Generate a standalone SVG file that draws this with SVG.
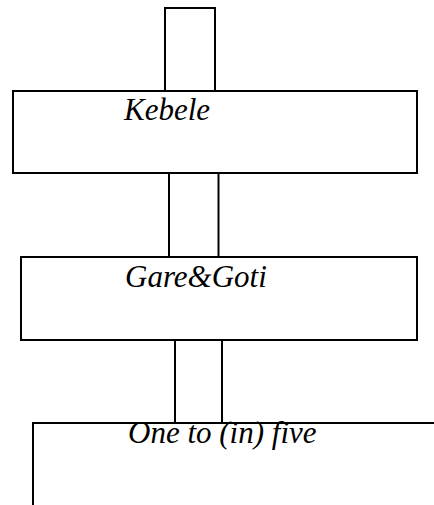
<svg xmlns="http://www.w3.org/2000/svg" width="434" height="505" viewBox="0 0 434 505">
<style>
.box{fill:#fff;stroke:#000;stroke-width:2}
.ln{fill:none;stroke:#000;stroke-width:2}
.lbl{font-family:"Liberation Serif","Times New Roman",serif;font-style:italic;font-size:31px;fill:#000}
</style>
<rect width="434" height="505" fill="#fff"/>
<g id="connectors">
<rect class="box" x="165" y="8" width="50" height="83"/>
<line class="ln" x1="169" y1="173" x2="169" y2="257"/>
<line class="ln" x1="218.5" y1="173" x2="218.5" y2="257"/>
<line class="ln" x1="175" y1="340" x2="175" y2="423"/>
<line class="ln" x1="222" y1="340" x2="222" y2="423"/>
</g>
<g id="kebele">
<rect class="box" x="13" y="91" width="404" height="82"/>
<text class="lbl" x="124" y="120">Kebele</text>
</g>
<g id="gare-goti">
<rect class="box" x="21" y="257" width="396" height="83"/>
<text class="lbl" x="125" y="287">Gare&amp;Goti</text>
</g>
<g id="one-to-five">
<path class="ln" d="M33 505 V423 H434"/>
<text class="lbl" x="128" y="443">One to (in) five</text>
</g>
</svg>
